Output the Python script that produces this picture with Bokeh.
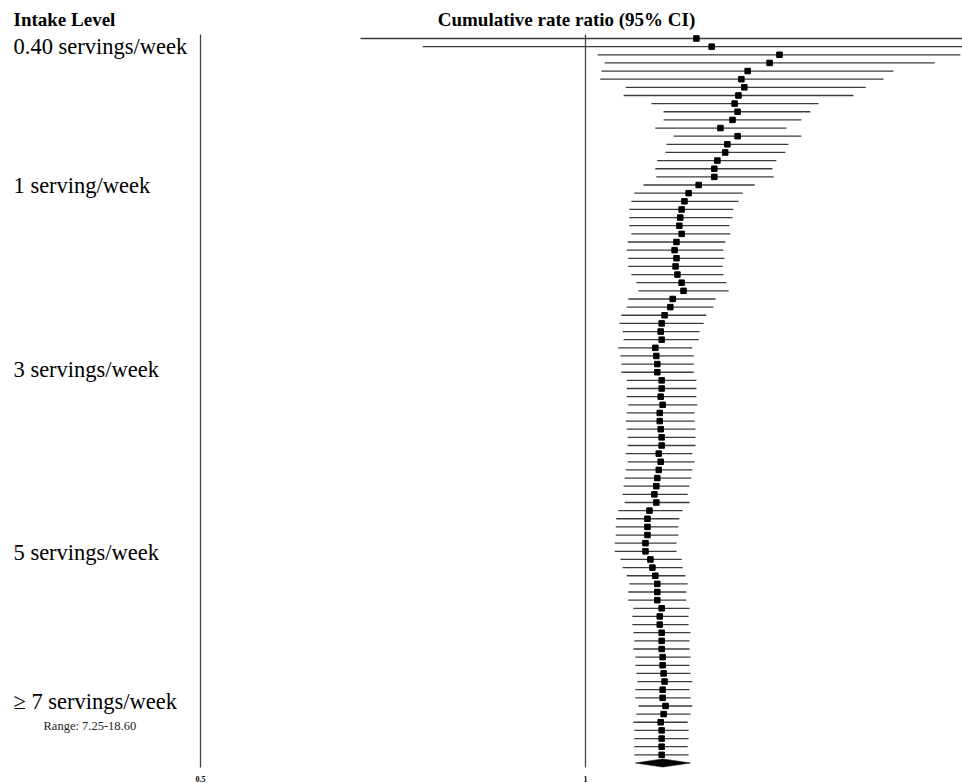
import numpy as np
from bokeh.plotting import figure
from bokeh.models import Range1d, Label
from bokeh.core.properties import value
from bokeh.embed import file_html
from bokeh.resources import INLINE

# ---------------- data ----------------
est = [1.221, 1.255, 1.418, 1.393, 1.339, 1.324, 1.331, 1.317, 1.308, 1.315,
       1.303, 1.275, 1.315, 1.291, 1.286, 1.268, 1.261, 1.261, 1.226, 1.204,
       1.195, 1.189, 1.186, 1.184, 1.189, 1.178, 1.174, 1.178, 1.176, 1.180,
       1.189, 1.193, 1.170, 1.165, 1.153, 1.147, 1.145, 1.147, 1.134, 1.136,
       1.138, 1.138, 1.147, 1.147, 1.145, 1.149, 1.143, 1.143, 1.145, 1.147,
       1.147, 1.141, 1.145, 1.141, 1.138, 1.136, 1.132, 1.136, 1.122, 1.118,
       1.118, 1.118, 1.114, 1.114, 1.124, 1.128, 1.134, 1.138, 1.138, 1.138,
       1.147, 1.143, 1.143, 1.147, 1.147, 1.147, 1.149, 1.149, 1.151, 1.153,
       1.149, 1.149, 1.155, 1.151, 1.145, 1.147, 1.147, 1.147, 1.147]
lo = [0.667, 0.746, 1.022, 1.035, 1.029, 1.027, 1.075, 1.071, 1.126, 1.151,
      1.151, 1.134, 1.172, 1.157, 1.155, 1.138, 1.134, 1.136, 1.110, 1.092,
      1.086, 1.082, 1.082, 1.082, 1.086, 1.079, 1.077, 1.080, 1.080, 1.086,
      1.096, 1.100, 1.080, 1.077, 1.067, 1.063, 1.069, 1.071, 1.061, 1.065,
      1.067, 1.067, 1.077, 1.077, 1.077, 1.080, 1.077, 1.075, 1.077, 1.079,
      1.079, 1.075, 1.079, 1.075, 1.073, 1.071, 1.069, 1.073, 1.061, 1.057,
      1.056, 1.056, 1.054, 1.054, 1.065, 1.069, 1.077, 1.082, 1.080, 1.080,
      1.090, 1.088, 1.088, 1.090, 1.092, 1.090, 1.094, 1.094, 1.096, 1.098,
      1.094, 1.094, 1.100, 1.096, 1.090, 1.092, 1.092, 1.092, 1.092]
hi = [2.600, 2.300, 1.964, 1.875, 1.741, 1.710, 1.656, 1.620, 1.521, 1.499,
      1.475, 1.436, 1.475, 1.441, 1.433, 1.410, 1.400, 1.403, 1.356, 1.327,
      1.317, 1.305, 1.303, 1.296, 1.298, 1.286, 1.282, 1.284, 1.280, 1.282,
      1.289, 1.294, 1.264, 1.259, 1.243, 1.237, 1.228, 1.226, 1.212, 1.215,
      1.215, 1.215, 1.221, 1.221, 1.221, 1.223, 1.217, 1.217, 1.219, 1.219,
      1.219, 1.212, 1.217, 1.212, 1.210, 1.206, 1.202, 1.206, 1.191, 1.184,
      1.182, 1.182, 1.178, 1.178, 1.189, 1.191, 1.197, 1.202, 1.199, 1.199,
      1.206, 1.204, 1.204, 1.208, 1.206, 1.206, 1.208, 1.206, 1.208, 1.212,
      1.206, 1.208, 1.212, 1.208, 1.202, 1.204, 1.204, 1.202, 1.204]
pooled = [1.149, 1.094, 1.208]   # estimate, lower, upper

tick_values = [0.5, 1.0]
tick_labels = ["0.5", "1"]

category_labels = ["0.40 servings/week", "1 serving/week", "3 servings/week",
                   "5 servings/week", "\u2265 7 servings/week"]
range_note = "Range: 7.25-18.60"
title_text = "Cumulative rate ratio (95% CI)"
header_text = "Intake Level"

# ---------------- layout ----------------
W, H = 962, 783
ROW0_PX, ROW_STEP = 38.0, 8.14
PX_PER_DOUBLING = 385.0
ONE_PX = 585.0

n = len(est)
rows = np.arange(1, n + 1)

def row_of(py):
    return 1 + (py - ROW0_PX) / ROW_STEP

x_start = 2 ** ((0 - ONE_PX) / PX_PER_DOUBLING)
x_end = 2 ** ((W - ONE_PX) / PX_PER_DOUBLING)
y_top = row_of(0)
y_bottom = row_of(H)

p = figure(width=W, height=H, x_axis_type="log",
           x_range=Range1d(x_start, x_end), y_range=Range1d(y_bottom, y_top),
           output_backend="svg", toolbar_location=None,
           x_axis_location=None, y_axis_location=None,
           min_border=0, min_border_left=0, min_border_right=0,
           min_border_top=0, min_border_bottom=0)
p.grid.visible = False
p.outline_line_color = None
p.background_fill_color = "white"
p.border_fill_color = "white"

FONT = value("Liberation Serif")

# vertical lines at 0.5 (axis) and 1 (reference)
p.segment(x0=tick_values, x1=tick_values, y0=[row_of(34)] * 2, y1=[row_of(767)] * 2,
          line_color="#444444", line_width=1.3)

# confidence intervals
p.segment(x0=lo, y0=rows, x1=hi, y1=rows, line_color="#3c3c3c", line_width=1.3)
p.scatter(x=est, y=rows, marker="square", size=5.5, color="black")

# pooled diamond
yc = n + 1
h = 0.5
p.patch(x=[pooled[1], pooled[0], pooled[2], pooled[0]],
        y=[yc, yc - h, yc, yc + h], color="black", line_width=0.5)

# tick labels
p.text(x=tick_values, y=[row_of(778)] * 2, text=tick_labels, text_font=FONT,
       text_font_style="bold", text_font_size="8px", text_align="center",
       text_baseline="alphabetic", text_color="black")

# header texts
p.add_layout(Label(x=13, x_units="screen", y=row_of(19), text=header_text,
                   text_font="Liberation Serif", text_font_style="bold",
                   text_font_size="19px", text_baseline="alphabetic",
                   text_color="black"))
p.add_layout(Label(x=566, x_units="screen", y=row_of(19), text=title_text,
                   text_font="Liberation Serif", text_font_style="bold",
                   text_font_size="19px", text_baseline="alphabetic",
                   text_align="center", text_color="black"))

cat_baselines = [46, 185, 369, 552, 701]
for txt, py in zip(category_labels, cat_baselines):
    p.add_layout(Label(x=13, x_units="screen", y=row_of(py), text=txt,
                       text_font="Liberation Serif", text_font_size="22.5px",
                       text_baseline="alphabetic", text_color="black"))
p.add_layout(Label(x=43, x_units="screen", y=row_of(725), text=range_note,
                   text_font="Liberation Serif", text_font_size="12.5px",
                   text_baseline="alphabetic", text_color="#222222"))

open("out.html", "w").write(file_html(p, INLINE))
